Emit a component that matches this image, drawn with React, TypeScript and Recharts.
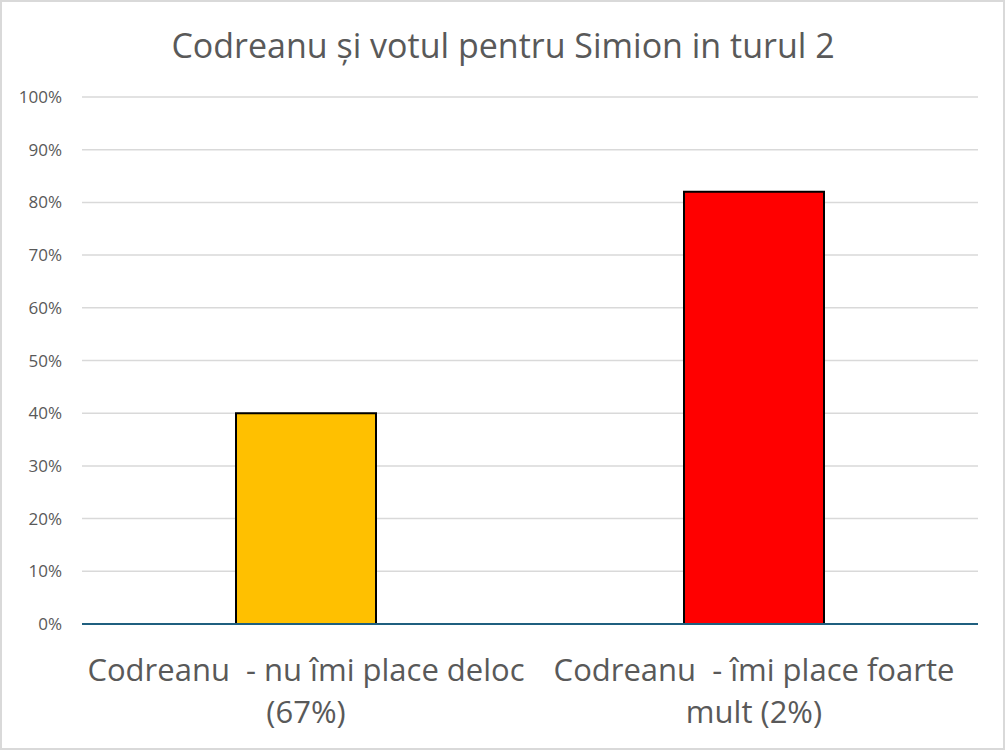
import React from 'react';
import { BarChart, Bar, XAxis, YAxis, CartesianGrid, Cell } from 'recharts';

const categories = ['Codreanu  - nu îmi place deloc|(67%)', 'Codreanu  - îmi place foarte|mult (2%)'];
const values = [40, 82];
const colors = ['#FFC000', '#FF0000'];
const yTicks = [0, 10, 20, 30, 40, 50, 60, 70, 80, 90, 100];
const title = 'Codreanu și votul pentru Simion in turul 2';

const data = categories.map((c, i) => ({ name: c, value: values[i] }));

const FONT = '"Open Sans", "Noto Sans", sans-serif';

const XTick = (props: any) => {
  const { x, y, payload } = props;
  const lines = String(payload.value).split('|');
  return (
    <g>
      {lines.map((l, i) => (
        <text
          key={i}
          x={x}
          y={y + 49 + i * 42}
          textAnchor="middle"
          fill="#595959"
          fontSize={31}
          fontFamily={FONT}
          style={{ whiteSpace: 'pre' }}
        >
          {l}
        </text>
      ))}
    </g>
  );
};

const YTick = (props: any) => {
  const { x, y, payload } = props;
  return (
    <text x={62} y={y + 6} textAnchor="end" fill="#595959" fontSize={17} fontFamily={FONT}>
      {`${payload.value}%`}
    </text>
  );
};

export default function App() {
  return (
    <div style={{ position: 'absolute', left: 0, top: 0, width: 1005, height: 750, background: '#fff' }}>
      <BarChart
        width={1005}
        height={750}
        data={data}
        margin={{ top: 97, right: 27, bottom: 0, left: 0 }}
        barCategoryGap={154}
      >
        <CartesianGrid vertical={false} stroke="#d9d9d9" strokeWidth={1.5} />
        <YAxis
          domain={[0, 100]}
          ticks={yTicks}
          width={82}
          axisLine={false}
          tickLine={false}
          tick={<YTick />}
          interval={0}
        />
        <XAxis
          dataKey="name"
          height={126}
          axisLine={{ stroke: '#1f5f7f', strokeWidth: 2 }}
          tickLine={false}
          tick={<XTick />}
          interval={0}
        />
        <Bar dataKey="value" stroke="#000" strokeWidth={2} isAnimationActive={false}>
          {data.map((d, i) => (
            <Cell key={i} fill={colors[i]} />
          ))}
        </Bar>
      </BarChart>
      <svg width={1005} height={750} style={{ position: 'absolute', left: 0, top: 0, pointerEvents: 'none' }}>
        <rect x={1} y={1} width={1003} height={748} fill="none" stroke="#d9d9d9" strokeWidth={2} />
        <text x={503} y={58} textAnchor="middle" fill="#595959" fontSize={34} fontFamily={FONT}>
          {title}
        </text>
      </svg>
    </div>
  );
}
